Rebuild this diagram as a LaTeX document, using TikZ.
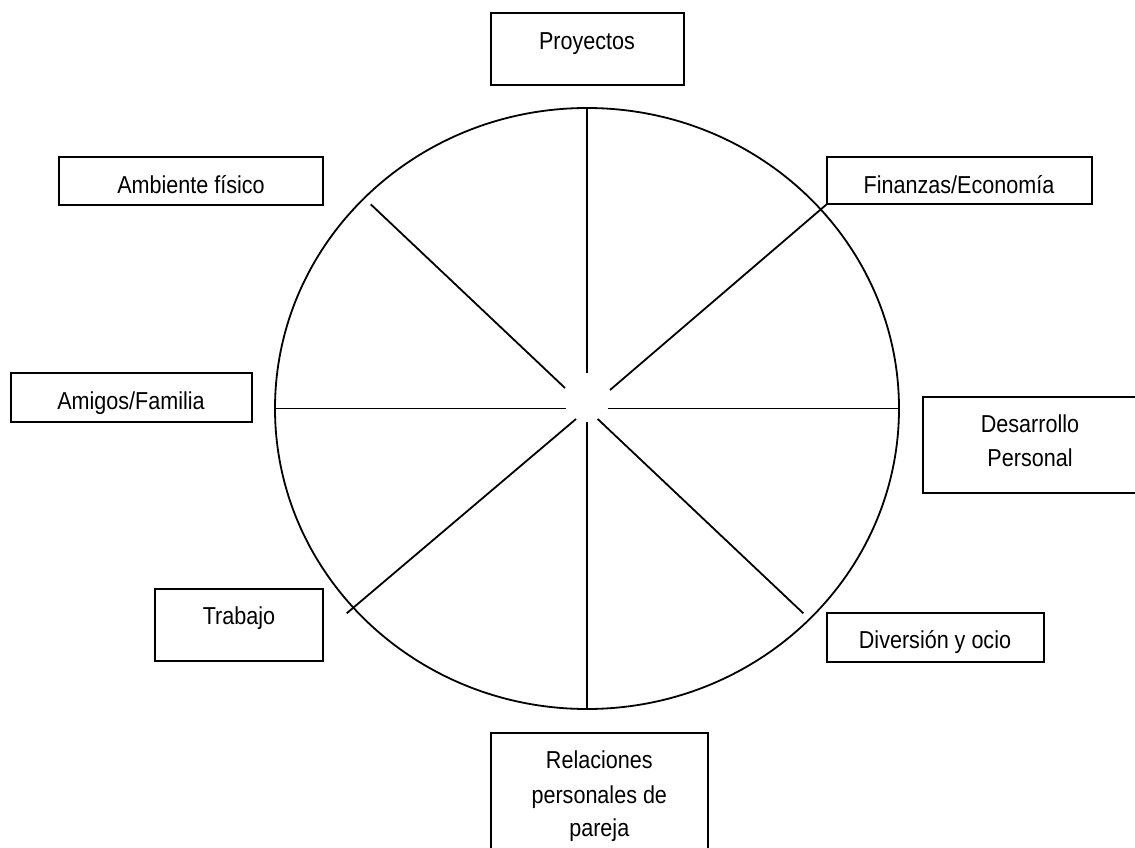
\documentclass[tikz,border=0pt]{standalone}
\usepackage{fontspec}
\setmainfont{Liberation Sans}[FakeStretch=0.88]
\usetikzlibrary{shapes.geometric}
\begin{document}
\begin{tikzpicture}[x=1pt,y=-1pt,
  box/.style={draw=black,line width=2pt,fill=none,inner sep=0pt,outer sep=0pt},
  lbl/.style={inner sep=0pt,outer sep=0pt,anchor=base,font=\fontsize{24.5}{34}\selectfont},
  spoke/.style={draw=black,line width=1.8pt}]
\clip (0,0) rectangle (1135,848);
\fill[white] (0,0) rectangle (1135,848);
% circle
\node[draw=black,line width=1.8pt,ellipse,minimum width=624pt,minimum height=601pt,inner sep=0pt] (wheel) at (587,408.5) {};
% boxes
\node[box,minimum width=193.3pt,minimum height=72.3pt] (pbox) at (587.35,48.85) {};
\node[box,minimum width=264.3pt,minimum height=48.6pt] (abox) at (191.15,181) {};
\node[box,minimum width=265pt,minimum height=47pt] (fbox) at (959.2,180.8) {};
\node[box,minimum width=241pt,minimum height=48.4pt] (mbox) at (131.2,397.5) {};
\node[box,minimum width=227.3pt,minimum height=96pt] (dbox) at (1036.35,444.7) {};
\node[box,minimum width=168.6pt,minimum height=71.7pt] (tbox) at (239,625.15) {};
\node[box,minimum width=217.3pt,minimum height=49pt] (vbox) at (935.35,637.2) {};
\node[box,minimum width=216.7pt,minimum height=136.7pt] (rbox) at (599.35,801.65) {};
% labels
\node[lbl] (ptxt) at (587,50) {Proyectos};
\node[lbl] (atxt) at (191,193.3) {Ambiente físico};
\node[lbl] (ftxt) at (959,193.3) {Finanzas/Economía};
\node[lbl] (mtxt) at (131,409.3) {Amigos/Familia};
\node[lbl] (dtxt1) at (1030,432.7) {Desarrollo};
\node[lbl] (dtxt2) at (1030,466.7) {Personal};
\node[lbl] (ttxt) at (239,624.3) {Trabajo};
\node[lbl] (vtxt) at (935,648.3) {Diversión y ocio};
\node[lbl] (rtxt1) at (599.3,768.3) {Relaciones};
\node[lbl] (rtxt2) at (599.3,803) {personales de};
\node[lbl] (rtxt3) at (599.3,836.5) {pareja};
% spoke end points
\coordinate (n1) at (587.3,108);   \coordinate (n2) at (587.3,372.7);
\coordinate (s1) at (587.3,421.7); \coordinate (s2) at (587.3,709);
\coordinate (w1) at (275,408.5);   \coordinate (w2) at (566,408.5);
\coordinate (e1) at (607.7,408.5); \coordinate (e2) at (899,408.5);
\coordinate (nw1) at (370.7,204.3); \coordinate (nw2) at (565,388);
\coordinate (ne1) at (610,390);    \coordinate (ne2) at (fbox.south west);
\coordinate (sw1) at (576,419);    \coordinate (sw2) at (346.7,613.3);
\coordinate (se1) at (597.7,419);  \coordinate (se2) at (803.3,613.3);
\draw[spoke] (n1) -- (n2);
\draw[spoke] (s1) -- (s2);
\draw[spoke] (w1) -- (w2);
\draw[spoke] (e1) -- (e2);
\draw[spoke] (nw1) -- (nw2);
\draw[spoke] (ne1) -- (ne2);
\draw[spoke] (sw1) -- (sw2);
\draw[spoke] (se1) -- (se2);
\end{tikzpicture}
\end{document}
